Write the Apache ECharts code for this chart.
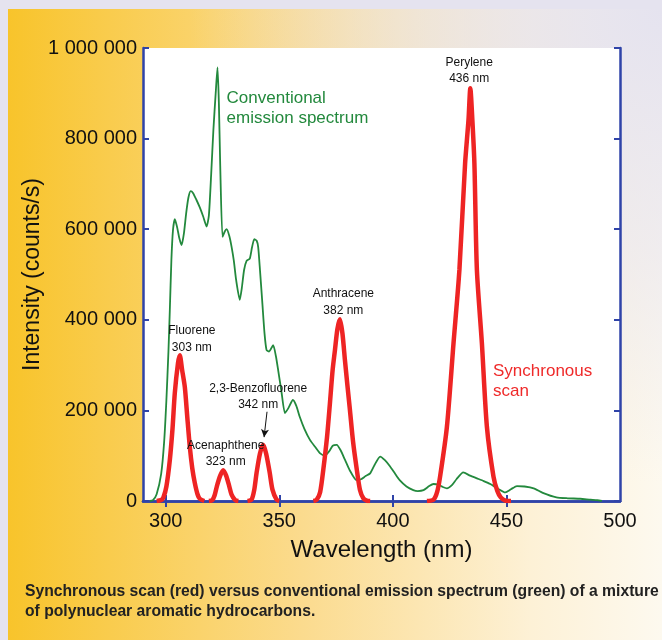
<!DOCTYPE html>
<html>
<head>
<meta charset="utf-8">
<script src="https://cdn.jsdelivr.net/npm/echarts@6/dist/echarts.min.js"></script>
<style>html,body{margin:0;padding:0;background:#e5e3ef;}#c{width:662px;height:640px;}</style>
</head>
<body>
<div id="c"></div>
<script>
// ---- data (wavelength nm, intensity counts/s) ----
var xTicks = [300, 350, 400, 450, 500];
var yTicks = [0, 200000, 400000, 600000, 800000, 1000000];

var conventionalSpectrum = [
  [293,0],[294.4,2000],[296,15000],[298,60000],[299.3,130000],[300.3,223000],[301.2,330000],[301.8,420000],
  [302.5,532000],[303.2,598000],[304,622000],[305,605000],[306,580000],[307,565000],[308,590000],[309,635000],
  [310,670000],[311,684000],[312,680000],[313.5,665000],[315,648000],[316.5,628000],[318,606000],[319,630000],
  [320,720000],[321,820000],[322,900000],[322.8,957000],[323.4,880000],[324,740000],[325,583000],[326,595000],
  [326.8,600000],[328,585000],[329,561000],[330,530000],[331,488000],[332.6,444000],[333.5,470000],[334.5,510000],
  [335.6,530000],[337,535000],[338,560000],[339,578000],[340,575000],[340.7,561000],[341.5,510000],[342.5,440000],
  [343.5,370000],[344.4,333000],[345.5,330000],[347.3,344000],[348.5,320000],[349.5,289000],[351,240000],
  [352.5,194000],[354,205000],[356,223000],[357.5,210000],[359,186000],[361,160000],[363.5,135000],[366,118000],
  [368,105000],[370,100000],[372,110000],[373.5,122000],[375.3,124000],[377,112000],[379,90000],[381,68000],
  [384,46000],[386,48000],[388,55000],[390,61000],[392,80000],[394.4,98000],[396.5,90000],[398.8,76000],
  [401,60000],[403,46000],[406,32000],[409,24000],[411,22000],[413.5,24000],[416,33000],[417.9,37500],
  [420,36000],[422,31000],[423.8,28000],[426,35000],[428,48000],[431,63000],[434,56000],[437,50000],
  [440,44000],[442.9,37500],[446,28000],[449.5,19000],[452,26000],[454.6,33000],[458,32000],[462,28000],
  [466,18000],[472,8000],[477,6000],[482.5,5000],[487,3000],[490,2000],[492,0]
];

var fluoreneScan = [[296,0],[298,2000],[299,8000],[300.3,32000],[301.8,90000],[303,160000],[304,238000],[305.4,304000],
  [306.2,322000],[307.2,290000],[308.4,252000],[309.5,185000],[310.6,120000],[311.7,72000],[312.8,40000],[314,15000],[315,5000],[317,0]];
var acenaphtheneScan = [[319,0],[320.5,2000],[321.5,12000],[322.6,34000],[324,56000],[325.3,68000],[326.6,56000],
  [327.9,34000],[329,14000],[330.6,2000],[332,0]];
var benzofluoreneScan = [[336,0],[337.8,3000],[339,25000],[340,62000],[341.5,105000],[342.9,124000],[344.2,105000],
  [345.8,62000],[347,25000],[348.8,3000],[350,0]];
var anthraceneScan = [[365,0],[366.5,3000],[368,20000],[369.4,70000],[371,140000],[372.3,216000],[373.5,290000],
  [374.5,333000],[375.6,380000],[376.7,401000],[377.8,370000],[378.9,311000],[380,255000],[381.1,201000],
  [382.5,130000],[384.1,70000],[385.5,25000],[387,6000],[388.5,1000],[390,0]];
var peryleneScan = [[415,0],[417.9,3000],[419.5,20000],[420.8,54000],[423.8,164000],[426.7,348000],[429.3,510000],
  [431.8,745000],[433.3,841000],[434.1,911000],[435,841000],[435.9,745000],[437,510000],[439.2,348000],
  [441.4,164000],[444.3,54000],[446,22000],[447.5,8000],[449.5,1000],[452,0]];

var peakLabels = [
  {name:'Fluorene', nm:'303 nm', x:311.5, y:357000},
  {name:'Acenaphthene', nm:'323 nm', x:326.4, y:104000},
  {name:'2,3-Benzofluorene', nm:'342 nm', x:340.7, y:230000},
  {name:'Anthracene', nm:'382 nm', x:378.2, y:439000},
  {name:'Perylene', nm:'436 nm', x:433.6, y:950000}
];
var arrowFrom = [344.6, 197000], arrowTo = [343.3, 141000];
var seriesNotes = [
  {text:'Conventional\nemission spectrum', x:326.8, y:867000, color:'#23893d'},
  {text:'Synchronous\nscan', x:444.1, y:264000, color:'#ef2a2a'}
];

// ---- build ----
var scanData = [];
[fluoreneScan, acenaphtheneScan, benzofluoreneScan, anthraceneScan, peryleneScan].forEach(function (p, i) {
  if (i > 0) scanData.push([p[0][0] - 0.5, null]);
  p.forEach(function (d) { scanData.push(d); });
});

var BLUE = '#2f43a8';
var FONT = 'Liberation Sans, Arial, sans-serif';

function fmtSpace(v) { return String(v).replace(/\B(?=(\d{3})+(?!\d))/g, ' '); }

var axisLineStyle = {show:true, lineStyle:{color:BLUE, width:2.5}};
var tickStyle = {show:true, inside:true, length:6, lineStyle:{color:BLUE, width:2}};

var chart = echarts.init(document.getElementById('c'), null, {renderer:'canvas'});
chart.setOption({
  backgroundColor:'#e5e3ef',
  animation:false,
  graphic:[
    {type:'rect', z:-10, shape:{x:8, y:9, width:654, height:631},
     style:{fill:{type:'linear', x:0, y:0, x2:1, y2:0, colorStops:[
       {offset:0, color:'#f8c42b'},{offset:0.45, color:'#fbdb8e'},{offset:0.8, color:'#fdf1d6'},{offset:1, color:'#fdf9ef'}]}}},
    {type:'rect', z:-9, shape:{x:8, y:9, width:654, height:631},
     style:{fill:{type:'radial', x:1, y:0, r:0.75, colorStops:[
       {offset:0, color:'rgba(229,227,239,1)'},{offset:0.5, color:'rgba(231,228,238,0.6)'},{offset:1, color:'rgba(231,228,238,0)'}]}}},
    {type:'text', left:25, top:582, z:10, style:{text:'Synchronous scan (red) versus conventional emission spectrum (green) of a mixture\nof polynuclear aromatic hydrocarbons.',
      fill:'#222', font:'bold 15.7px ' + FONT, lineHeight:19.5}}
  ],
  grid:{left:143, right:42, top:48, bottom:139, show:true, backgroundColor:'#ffffff', borderWidth:0},
  xAxis:[
    {type:'value', min:290, max:500, position:'bottom', axisLine:axisLineStyle,
     axisTick:Object.assign({customValues:[300,350,400,450]}, tickStyle),
     axisLabel:{customValues:xTicks, fontSize:20, color:'#111', fontFamily:FONT, margin:10},
     splitLine:{show:false},
     name:'Wavelength (nm)', nameLocation:'middle', nameGap:37, nameMoveOverlap:false,
     nameTextStyle:{fontSize:24, color:'#111', fontFamily:FONT}},
    {type:'value', min:290, max:500, position:'top', axisLine:axisLineStyle,
     axisTick:Object.assign({customValues:[300,350,400,450]}, tickStyle),
     axisLabel:{show:false}, splitLine:{show:false}}
  ],
  yAxis:[
    {type:'value', min:0, max:1000000, interval:200000, position:'left', axisLine:axisLineStyle,
     axisTick:tickStyle,
     axisLabel:{fontSize:20, color:'#111', fontFamily:FONT, margin:6, formatter:fmtSpace},
     splitLine:{show:false},
     name:'Intensity (counts/s)', nameLocation:'middle', nameGap:99, nameRotate:90, nameMoveOverlap:false,
     nameTextStyle:{fontSize:23, color:'#111', fontFamily:FONT}},
    {type:'value', min:0, max:1000000, interval:200000, position:'right', axisLine:axisLineStyle,
     axisTick:tickStyle, axisLabel:{show:false}, splitLine:{show:false}}
  ],
  series:[
    {type:'line', name:'Conventional', data:conventionalSpectrum, showSymbol:false, smooth:0.2,
     lineStyle:{color:'#23893d', width:1.8}, z:3,
     markPoint:{symbol:'circle', symbolSize:0, silent:true,
       data:seriesNotes.map(function (n) {
         return {coord:[n.x, n.y], label:{show:true, position:'right', distance:0, formatter:n.text,
           color:n.color, fontSize:17, lineHeight:20, fontFamily:FONT, align:'left'}};
       })}},
    {type:'line', name:'Synchronous', data:scanData, showSymbol:false, smooth:0.25, connectNulls:false,
     lineStyle:{color:'#ee2424', width:4.5}, z:4,
     markPoint:{symbol:'circle', symbolSize:0, silent:true,
       data:peakLabels.map(function (p) {
         return {coord:[p.x, p.y], label:{show:true, position:'inside', formatter:p.name + '\n' + p.nm,
           color:'#111', fontSize:12, lineHeight:16.5, fontFamily:FONT, align:'center'}};
       })},
     markLine:{silent:true, symbol:['none','arrow'], symbolSize:[6,8], label:{show:false},
       lineStyle:{color:'#111', width:1, type:'solid'},
       data:[[{coord:arrowFrom},{coord:arrowTo}]]}}
  ]
});
</script>
</body>
</html>
